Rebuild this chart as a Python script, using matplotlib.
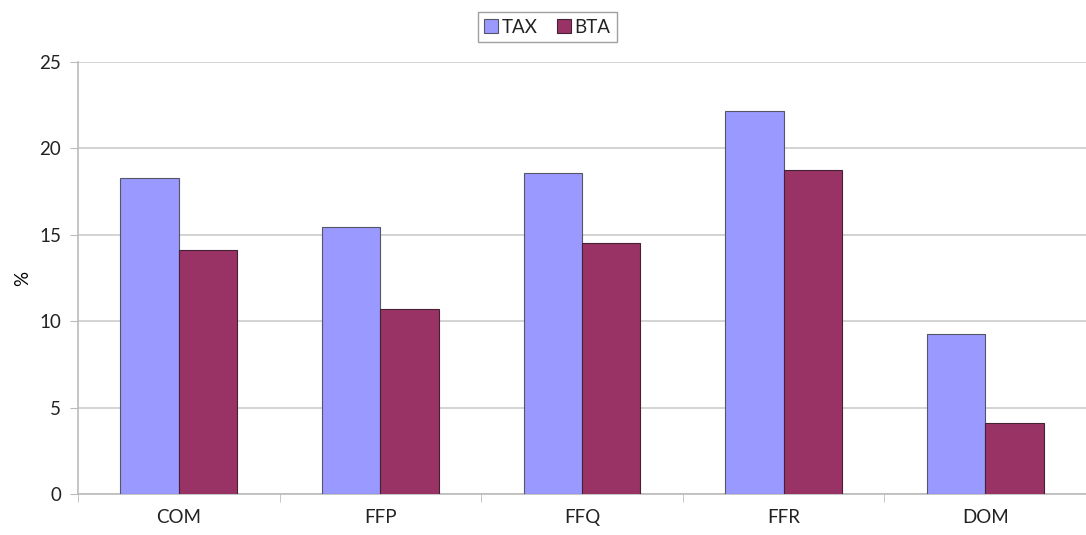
import numpy as np
import matplotlib
matplotlib.use('Agg')
import matplotlib.pyplot as plt

categories = ['COM', 'FFP', 'FFQ', 'FFR', 'DOM']
tax = [18.3, 15.45, 18.6, 22.15, 9.25]
bta = [14.1, 10.7, 14.5, 18.75, 4.1]

plt.rcParams['font.family'] = ['Lato', 'DejaVu Sans']
plt.rcParams['text.color'] = '#222222'

fig = plt.figure(figsize=(10.86, 5.35), dpi=100)
ax = fig.add_axes([0.0718, 0.0766, 0.9282, 0.8075])

x = np.arange(len(categories))
w = 0.29
ax.bar(x - w / 2, tax, w, color='#9999FF', edgecolor='#555566', linewidth=0.8,
       label='TAX', zorder=3)
ax.bar(x + w / 2, bta, w, color='#993366', edgecolor='#442233', linewidth=0.8,
       label='BTA', zorder=3)

ax.set_xlim(-0.5, len(categories) - 0.5)
ax.set_ylim(0, 25)
ax.set_yticks(range(0, 26, 5))
ax.set_xticks(x)
ax.set_xticklabels(categories)
ax.set_xticks(np.arange(-0.5, len(categories), 1), minor=True)
ax.tick_params(axis='x', which='major', length=0, pad=11, labelsize=13.5,
               labelcolor='#222222')
ax.tick_params(axis='x', which='minor', length=6, color='#bbbbbb')
ax.tick_params(axis='y', length=6, color='#bbbbbb', pad=6, labelsize=13.5,
               labelcolor='#222222')

ax.grid(axis='y', color='#cccccc', linewidth=1.2, zorder=0)
for s in ['top', 'right']:
    ax.spines[s].set_visible(False)
for s in ['left', 'bottom']:
    ax.spines[s].set_color('#bbbbbb')
    ax.spines[s].set_linewidth(1.2)

ax.set_ylabel('%', fontsize=13.5, labelpad=6)

fig.legend(loc='upper center', bbox_to_anchor=(0.504, 0.995), ncol=2,
           frameon=True, fancybox=False, edgecolor='#888888', fontsize=13.5,
           handlelength=0.75, handleheight=0.75, handletextpad=0.2,
           columnspacing=1.0, borderpad=0.35)

fig.savefig('out.png', dpi=100)
